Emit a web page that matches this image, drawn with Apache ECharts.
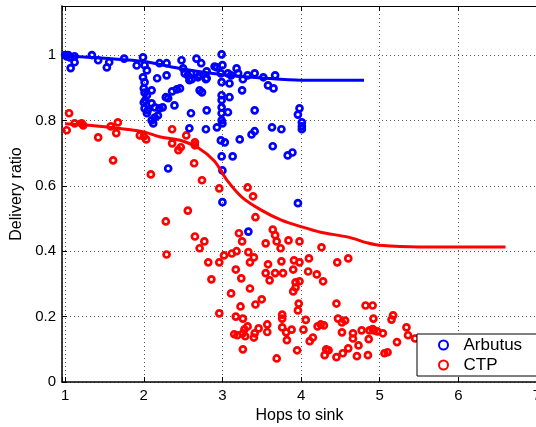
<!DOCTYPE html>
<html>
<head>
<meta charset="utf-8">
<script src="https://cdn.jsdelivr.net/npm/echarts/dist/echarts.min.js"></script>
<style>
  html, body { margin: 0; padding: 0; background: #fff; }
  #chart { width: 536px; height: 427px; }
</style>
</head>
<body>
<div id="chart"></div>
<script>
// scatter points [hops, delivery ratio]
const arbutusPts = [
  [1.00,1.000],[1.02,0.996],[1.04,1.000],[1.06,0.993],[1.07,0.960],[1.12,0.996],[1.12,0.978],[1.34,1.000],
  [1.42,0.984],[1.53,0.962],[1.56,0.978],[1.75,0.989],[1.91,0.968],[1.99,0.993],[2.01,0.969],[2.04,0.953],
  [1.99,0.932],[2.01,0.917],[2.00,0.898],[2.01,0.885],[2.04,0.877],[2.02,0.862],[2.00,0.855],[2.01,0.837],
  [2.05,0.831],[2.04,0.822],[2.10,0.892],[2.10,0.852],[2.14,0.840],[2.14,0.809],[2.10,0.800],[2.12,0.791],
  [2.18,0.815],[2.20,0.837],[2.24,0.840],[2.17,0.929],[2.20,0.975],[2.29,0.975],[2.29,0.938],[2.28,0.871],
  [2.31,0.868],[2.36,0.889],[2.42,0.895],[2.46,0.898],[2.39,0.846],[2.48,0.984],[2.50,0.959],[2.52,0.944],
  [2.56,0.938],[2.58,0.923],[2.60,0.944],[2.61,0.926],[2.67,0.989],[2.73,0.975],[2.69,0.932],[2.71,0.938],
  [2.80,0.929],[2.80,0.950],[2.79,0.926],[2.71,0.892],[2.74,0.886],[2.60,0.822],[2.80,0.831],[2.58,0.776],
  [2.79,0.773],[2.90,0.965],[2.93,0.962],[2.99,1.002],[3.00,0.969],[2.98,0.944],[2.99,0.917],[3.09,0.913],
  [2.99,0.877],[2.99,0.862],[3.09,0.871],[2.99,0.840],[3.07,0.825],[2.99,0.822],[2.99,0.800],[3.00,0.791],
  [2.93,0.779],[2.98,0.739],[3.03,0.733],[2.99,0.690],[3.13,0.690],[3.00,0.647],[2.31,0.653],[3.00,0.550],
  [3.07,0.944],[3.11,0.938],[3.18,0.959],[3.20,0.944],[3.26,0.926],[3.25,0.892],[3.22,0.742],[3.37,0.757],
  [3.41,0.767],[3.41,0.831],[3.41,0.944],[3.32,0.938],[3.52,0.932],[3.58,0.907],[3.67,0.938],[3.65,0.898],
  [3.63,0.779],[3.75,0.773],[3.64,0.721],[3.83,0.693],[3.89,0.702],[3.98,0.837],[3.96,0.818],[4.01,0.794],
  [4.01,0.782],[4.01,0.773],[3.33,0.460],[3.96,0.547]
]
const ctpPts = [
  [1.02,0.770],[1.05,0.822],[1.12,0.791],[1.21,0.791],[1.23,0.785],[1.42,0.748],[1.58,0.782],[1.61,0.678],
  [1.65,0.761],[1.67,0.794],[1.95,0.754],[2.00,0.751],[2.03,0.742],[2.09,0.635],[2.28,0.491],[2.29,0.390],
  [2.36,0.773],[2.36,0.730],[2.44,0.709],[2.47,0.718],[2.54,0.754],[2.56,0.524],[2.64,0.669],[2.65,0.733],
  [2.65,0.724],[2.65,0.445],[2.71,0.409],[2.74,0.617],[2.77,0.430],[2.82,0.366],[2.86,0.314],[2.96,0.592],
  [2.96,0.366],[2.96,0.210],[3.02,0.387],[3.11,0.271],[3.12,0.393],[3.15,0.146],[3.17,0.344],[3.17,0.200],
  [3.18,0.400],[3.19,0.143],[3.21,0.455],[3.23,0.231],[3.24,0.317],[3.25,0.430],[3.26,0.194],[3.26,0.149],
  [3.26,0.100],[3.28,0.161],[3.29,0.140],[3.32,0.595],[3.32,0.170],[3.33,0.397],[3.35,0.366],[3.35,0.286],
  [3.39,0.568],[3.40,0.381],[3.40,0.136],[3.41,0.149],[3.42,0.504],[3.42,0.237],[3.46,0.164],[3.50,0.253],
  [3.55,0.424],[3.55,0.333],[3.57,0.176],[3.57,0.153],[3.58,0.360],[3.60,0.311],[3.64,0.466],[3.67,0.449],
  [3.67,0.333],[3.69,0.430],[3.69,0.072],[3.74,0.409],[3.75,0.369],[3.76,0.206],[3.76,0.194],[3.76,0.167],
  [3.77,0.333],[3.81,0.152],[3.82,0.128],[3.84,0.433],[3.88,0.160],[3.90,0.344],[3.90,0.277],[3.91,0.372],
  [3.93,0.305],[3.93,0.289],[3.95,0.097],[3.96,0.219],[3.97,0.240],[3.98,0.430],[3.98,0.366],[3.98,0.308],
  [4.03,0.160],[4.06,0.190],[4.09,0.338],[4.10,0.378],[4.11,0.125],[4.15,0.136],[4.20,0.329],[4.21,0.170],
  [4.25,0.176],[4.26,0.412],[4.28,0.308],[4.29,0.173],[4.30,0.082],[4.32,0.100],[4.35,0.097],[4.45,0.240],
  [4.45,0.076],[4.46,0.366],[4.47,0.194],[4.52,0.182],[4.52,0.152],[4.53,0.088],[4.56,0.188],[4.60,0.378],
  [4.60,0.103],[4.66,0.149],[4.66,0.133],[4.71,0.079],[4.73,0.112],[4.77,0.158],[4.82,0.234],[4.85,0.082],
  [4.86,0.131],[4.87,0.158],[4.91,0.234],[4.91,0.162],[4.92,0.194],[4.93,0.158],[4.97,0.155],[5.04,0.149],
  [5.06,0.088],[5.10,0.091],[5.15,0.191],[5.17,0.204],[5.22,0.122],[5.34,0.167],[5.36,0.143],[5.45,0.133]
]
// smoothed trend lines
const arbutusFitX = [1.0, 1.5, 2.0, 2.5, 3.0, 3.5, 4.0, 4.5, 4.8]
const arbutusFitY = [0.998, 0.99, 0.98, 0.957, 0.94, 0.93, 0.923, 0.923, 0.923]
const ctpFitX = [1.0, 1.3, 1.7, 2.0, 2.2, 2.45, 2.7, 2.9, 3.05, 3.25, 3.5, 3.75, 4.0, 4.25, 4.6, 4.85, 5.0, 5.5, 6.0, 6.6]
const ctpFitY = [0.79, 0.785, 0.775, 0.765, 0.75, 0.74, 0.715, 0.675, 0.62, 0.565, 0.525, 0.495, 0.475, 0.458, 0.443, 0.425, 0.418, 0.413, 0.413, 0.413]

const xTicks = [1, 2, 3, 4, 5, 6, 7]
const yTicks = [0, 0.2, 0.4, 0.6, 0.8, 1]

const fontFamily = 'Liberation Sans'
const zip = (xs, ys) => xs.map((x, i) => [x, ys[i]])

const chart = echarts.init(document.getElementById('chart'))
const option = {
  animation: false,
  grid: {
    left: 62,
    top: 6,
    width: 475,
    height: 376,
    containLabel: false,
    outerBoundsMode: 'none'
  },
  xAxis: [
    {
      type: 'value',
      min: 0.96,
      max: 7,
      splitNumber: 6,
      name: 'Hops to sink',
      nameLocation: 'middle',
      nameGap: 22,
      nameTextStyle: { fontFamily, fontSize: 16, color: '#000' },
      axisLine: { onZero: false, lineStyle: { color: '#000', width: 1.5 } },
      axisTick: { inside: true, length: 5, lineStyle: { color: '#000' } },
      axisLabel: {
        margin: 6,
        fontFamily,
        fontSize: 15,
        color: '#000',
        hideOverlap: false,
        formatter: v => (xTicks.indexOf(v) >= 0 ? String(v) : '')
      },
      splitLine: { show: true, lineStyle: { color: '#555', type: [1, 3], width: 1 } }
    },
    {
      type: 'value',
      position: 'top',
      min: 0.96,
      max: 7,
      splitNumber: 6,
      axisLine: { onZero: false, lineStyle: { color: '#000', width: 1 } },
      axisTick: { inside: true, length: 5, lineStyle: { color: '#000' } },
      axisLabel: { show: false },
      splitLine: { show: false }
    }
  ],
  yAxis: {
    type: 'value',
    min: 0,
    max: 1.15,
    interval: 0.2,
    name: 'Delivery ratio',
    nameLocation: 'middle',
    nameGap: 30,
    nameTextStyle: { fontFamily, fontSize: 16, color: '#000' },
    axisLine: { show: true, onZero: false, lineStyle: { color: '#000', width: 1.5 } },
    axisTick: { show: true, inside: true, length: 5, lineStyle: { color: '#000' } },
    axisLabel: {
      margin: 6,
      fontFamily,
      fontSize: 15,
      color: '#000',
      formatter: v => (yTicks.some(t => Math.abs(t - v) < 1e-6) ? String(+v.toFixed(1)) : '')
    },
    splitLine: { show: true, lineStyle: { color: '#555', type: [1, 3], width: 1 } }
  },
  legend: {
    data: ['Arbutus', 'CTP'],
    orient: 'vertical',
    left: 417,
    top: 334,
    padding: [1, 60, 1, 21],
    itemWidth: 30,
    itemHeight: 9,
    itemGap: 0,
    selectedMode: false,
    backgroundColor: '#fff',
    borderColor: '#000',
    borderWidth: 1,
    borderRadius: 0,
    textStyle: { fontFamily, fontSize: 17, color: '#000', lineHeight: 20 }
  },
  series: [
    {
      name: 'CTP',
      type: 'scatter',
      symbol: 'circle',
      symbolSize: 6,
      clip: false,
      itemStyle: { color: 'rgba(255,255,255,0)', borderColor: '#ff0000', borderWidth: 2.7, opacity: 1 },
      data: ctpPts
    },
    {
      name: 'Arbutus',
      type: 'scatter',
      symbol: 'circle',
      symbolSize: 6,
      clip: false,
      itemStyle: { color: 'rgba(255,255,255,0)', borderColor: '#0000ff', borderWidth: 2.7, opacity: 1 },
      data: arbutusPts
    },
    {
      name: 'CTP trend',
      type: 'line',
      smooth: 0.3,
      symbol: 'none',
      lineStyle: { color: '#ff0000', width: 3 },
      data: zip(ctpFitX, ctpFitY)
    },
    {
      name: 'Arbutus trend',
      type: 'line',
      smooth: 0.3,
      symbol: 'none',
      lineStyle: { color: '#0000ff', width: 3 },
      data: zip(arbutusFitX, arbutusFitY)
    }
  ]
}
chart.setOption(option)
</script>
</body>
</html>
